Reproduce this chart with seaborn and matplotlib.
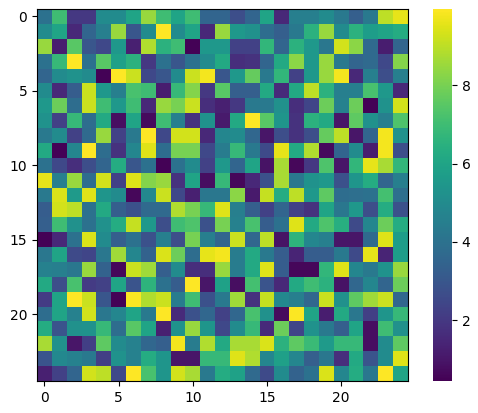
import numpy as np
import matplotlib
matplotlib.use("Agg")
import matplotlib.pyplot as plt
import seaborn as sns

r00=[4,7,2,2,5,5,6,8.5,7,6,7,3.5,3.5,2.7,3.5,6,1.5,4.5,4.5,5,4.3,3.3,4.3,9,9.6]
r01=[5,6,1.5,3.5,4.5,8.5,3,5,10,5,6,1.5,8.5,5.5,5.2,3.8,3.3,4.3,6.5,8.5,5,6.5,5.7,6,6.3]
r02=[8.5,1.2,7.5,3,2.5,5.5,1.3,8.8,6.5,7,0.5,5.5,5.5,2.3,2.3,6.7,3.5,6.5,5.5,4.2,9.3,8.3,3.7,1.2,3.5]
r03=[4,6.8,10,4,7.5,5.8,6.5,2,4,3,4,5,6.2,1.7,1.8,3.5,6.2,8.3,5.5,8.5,4.3,3.5,3.7,2.5,8.2]
r04=[3.5,5,5.3,5,0.5,10,9.2,2.5,3,5,9.2,9.8,3,5.5,7.7,4.3,6.7,2.3,5.5,8.5,9.8,1.5,4.5,2.7,4.5]
r05=[5,1.5,3.2,9.2,5.5,4.5,7.2,7,1.2,6.8,8.2,2,7.5,3.3,3.3,6.2,1.6,6.2,9,6.5,4.5,4.5,7.2,5.5,1.5]
r06=[5.5,7.8,3.8,9.2,7,5.5,7,1.5,8.5,8,9.2,1.7,1.3,2,4.3,4.3,5.2,1.7,2.4,7.8,4.6,7.8,0.5,5.3,9.3]
r07=[5.3,2.3,6.8,3.8,6.2,0.8,6,0.7,7,4.5,1.8,5.3,1.1,6.2,10,7.5,5.4,1.8,6.5,6.2,1,7.6,5.2,4.5,7.3]
r08=[4.3,5,2.3,3.7,8.5,2.3,4.3,10,2.5,9.3,9.3,1.5,4.8,5,3.6,1,2.7,1.8,2.7,7.7,9,1,3.5,9.8,5.3]
r09=[6.2,0.5,4.8,10,3.8,1.8,4.8,9.5,3.8,8,8,2.5,4.4,6.8,4.3,2.6,9.6,6.2,8.8,0.7,3.5,5,1.2,9.8,2.7]
r10=[4,2.5,1.7,2.7,3.5,6.3,3,4,0.5,4,5,2.3,5.5,3.5,6,0.9,8.7,0.6,2,7.3,1,6.7,9.6,8.7,6.7]
r11=[9.6,4.5,8.5,3.8,9.3,2.3,9.5,8.2,8.5,1.8,6,0.8,6.8,0.6,1.5,2.8,8.7,4.2,5.3,5.5,2.8,5.4,6.3,3.5,4.5]
r12=[4.3,9.4,5.6,9.5,5.4,5,0.6,4.9,9.2,2.5,1.3,4.2,4.2,8.3,1.1,9.1,6.3,9,5.5,7.6,3.8,3.9,4,7.1,3.9]
r13=[3.2,9.3,9,4,6.2,3.3,2.8,3.7,3.7,8.8,8,6.8,9.5,4.5,3.3,2.3,3.5,2.3,1.8,6,4.2,5.5,2.7,6.3,2.8]
r14=[3.3,7,5.2,4,5.2,6.3,9.1,5.5,2.7,7,7.3,2.8,8,4.6,7.2,3.2,4,9.5,6.2,7.3,6.4,2.6,4.8,7.8,6.3]
r15=[0.5,1.5,4,9.4,5,3.3,4,2.8,4.5,2.7,8,4.5,3.5,9.2,3.6,9,0.9,6.6,4.8,4.5,1,1,3.7,9.5,5.7]
r16=[4.2,6,2.6,2.4,4.2,8.6,4.8,3.4,9.4,7.8,3.8,9.6,9.8,4.4,6.2,4.3,3.2,1.4,3.2,3.2,4.3,2.6,9.6,1.4,5.7]
r17=[4.6,4.5,4.2,8.5,3.4,0.6,9.2,8.6,3.3,5,1.7,1.7,8.5,4.4,6.2,9.5,3.2,0.6,0.6,6.7,9.5,4.8,4.3,5.3,8.5]
r18=[6.2,2.7,7.2,2.1,2.3,6,2.9,6.6,4,3.2,10,1,5.9,0.8,7.1,2.9,1.5,6.2,7,6.5,0.9,3.6,4.8,3.5,7.8]
r19=[2.1,6,10,9.2,3,0.5,9.9,8.8,9.2,4.4,7,2.8,4.3,8.6,1.8,9.1,4.9,4.5,3.6,9.2,5.2,7.6,8.6,9.2,3.6]
r20=[3.8,6,4.6,9.3,4.2,4.8,6,4.3,10,1.6,2.8,3.6,2.3,3.6,7.2,5.2,0.7,9.9,6,1.2,6.2,4.2,2.2,5.4,6.8]
r21=[6.3,2.9,5.2,5.3,6.8,3.8,7.5,6,1.3,5.3,8.5,5.4,2.5,5,6.8,1.6,7.8,2.4,5.3,4.3,3.3,6,0.8,7,5.2]
r22=[8.7,5.2,1,2.2,7.6,5,4.6,3.6,3.3,9.8,4.4,8.8,6.2,8.7,8.7,9.4,6.5,7.6,6.9,5.6,6.8,6.8,0.8,5,7.6]
r23=[2.9,4.9,4.6,4.3,2.2,5.3,4.6,6.3,5.4,1,1,6.8,6.8,9.5,8.8,4.8,5.8,4.8,3.3,4.2,1.7,6.2,2.9,5,9.5]
r24=[1.3,2.3,3.5,9.3,9,2.5,10,7.2,5.4,9.3,8.7,4.3,6.3,5.9,3.7,2.6,5,3.4,4,9.4,4.8,6.3,4.2,10,6]

data = np.array([r00,r01,r02,r03,r04,r05,r06,r07,r08,r09,r10,r11,r12,r13,r14,r15,r16,r17,r18,r19,r20,r21,r22,r23,r24])
ticks = [0, 5, 10, 15, 20]

fig = plt.figure(figsize=(4.78, 4.13), dpi=100)
ax = fig.add_axes([37/478, 32/413, 371/478, 372/413])
cax = fig.add_axes([433/478, 32/413, 19/478, 372/413])
sns.heatmap(data, ax=ax, cbar_ax=cax, cmap="viridis", vmin=0.45, vmax=9.95,
            xticklabels=False, yticklabels=False)
ax.set_xticks([t + 0.5 for t in ticks])
ax.set_xticklabels([str(t) for t in ticks], rotation=0)
ax.set_yticks([t + 0.5 for t in ticks])
ax.set_yticklabels([str(t) for t in ticks], rotation=0)
ax.tick_params(length=3.5, labelsize=10)
for s in ax.spines.values():
    s.set_visible(True)
    s.set_color("black")
cax.set_yticks([2, 4, 6, 8])
cax.tick_params(labelsize=10, length=3.5)
fig.savefig("out.png", dpi=100)
